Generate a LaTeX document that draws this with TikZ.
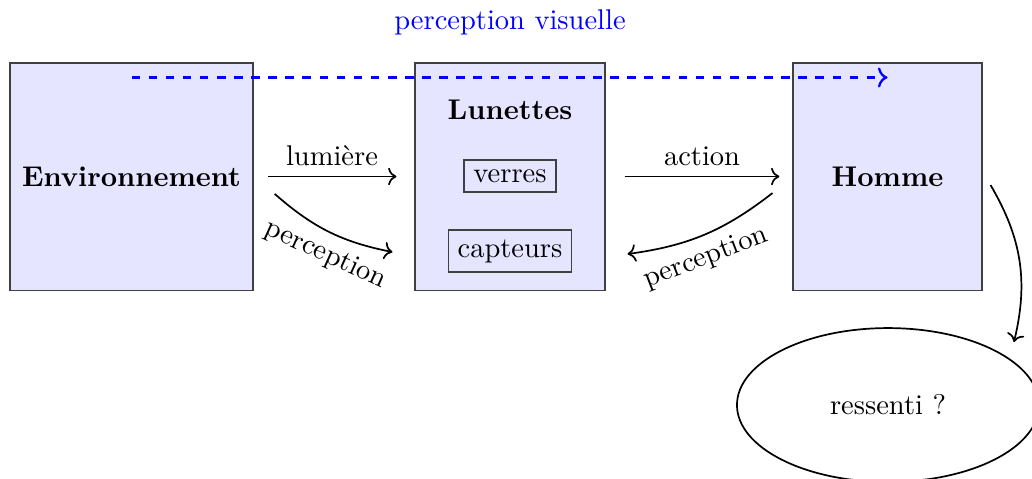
\documentclass[tikz,border=0pt]{standalone}
\usetikzlibrary{shapes.geometric,arrows.meta}
\begin{document}
\begin{tikzpicture}[x=0.3509pt,y=-0.3509pt,
  bigbox/.style={draw=black!75,fill=blue!10,minimum height=79.7pt,inner sep=0pt},
  smallbox/.style={draw=black!75,inner sep=3.33pt},
  arr/.style={->,semithick}]
\useasboundingbox (0,0) rectangle (1032,478);
\node[bigbox,minimum width=85.3pt] (env) at (131.5,176.5) {\textbf{Environnement}};
\node[bigbox,minimum width=66.7pt] (lun) at (510,176.5) {};
\node[bigbox,minimum width=66.3pt] (hom) at (887.5,176.5) {\textbf{Homme}};
\node (lunt) at (510,110) {\textbf{Lunettes}};
\node[smallbox] (ver) at (510,176) {verres};
\node[smallbox] (cap) at (510,251) {capteurs};
\node[text=blue] (pv) at (510,22) {perception visuelle};
\node[draw,ellipse,semithick,minimum width=106pt,minimum height=54pt,inner sep=0pt] (ell) at (888,405) {ressenti ?};
\draw[->,thick,draw=blue,dashed] ([yshift=-5.3pt]env.north) -- ([yshift=-5.3pt]hom.north);
\draw[arr] ([xshift=4.9pt]env.east) -- node[above]{lumière} ([xshift=-6.3pt]lun.west);
\draw[arr] ([xshift=6.7pt]lun.east) -- node[above]{action} ([xshift=-4.6pt]hom.west);
\draw[arr] ([shift={(7.4pt,-6.1pt)}]env.east) to[bend right=15] node[below,sloped,pos=0.55]{perception} ([shift={(-7.7pt,-26.5pt)}]lun.west);
\draw[arr] ([shift={(-7pt,-5.8pt)}]hom.west) to[bend left=15] node[below,sloped,pos=0.55]{perception} ([shift={(7.7pt,-27.2pt)}]lun.east);
\draw[arr] ([shift={(2.8pt,-3pt)}]hom.east) to[bend left=22] ([shift={(44.2pt,22.1pt)}]ell.center);
\end{tikzpicture}
\end{document}
